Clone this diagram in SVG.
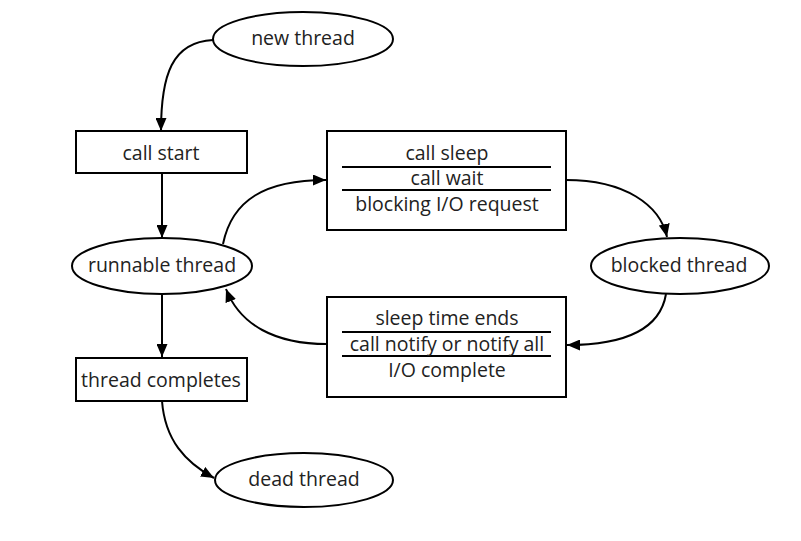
<svg xmlns="http://www.w3.org/2000/svg" width="801" height="541" viewBox="0 0 801 541">
<style>
.n{fill:#fff;stroke:#000;stroke-width:2}
.t{font-family:"Open Sans","Liberation Sans",sans-serif;font-size:19.5px;fill:#222;text-anchor:middle}
.sep{stroke:#000;stroke-width:2}
.c{fill:none;stroke:#000;stroke-width:2;marker-end:url(#ah)}
</style>
<defs>
<marker id="ah" markerUnits="userSpaceOnUse" markerWidth="13" markerHeight="11" refX="13" refY="5.5" orient="auto">
<path d="M0,0 L13,5.5 L0,11 z" fill="#000"/>
</marker>
</defs>
<rect width="801" height="541" fill="#fff"/>
<g id="connectors">
<path class="c" d="M213,40 C172,42 161,75 161,131"/>
<path class="c" d="M162,173 L162,238"/>
<path class="c" d="M223,244 C232,200 265,180 326,180"/>
<path class="c" d="M566,180 C625,180 660,205 667,237"/>
<path class="c" d="M666,294 C660,330 625,345 567,345"/>
<path class="c" d="M327,344 C275,344 240,325 226,289"/>
<path class="c" d="M162,294 L162,357"/>
<path class="c" d="M162,401 C165,440 185,462 214,478"/>
</g>
<g id="new-thread">
<ellipse class="n" cx="303" cy="39" rx="90" ry="27"/>
<text class="t" x="303" y="45">new thread</text>
</g>
<g id="call-start">
<rect class="n" x="76" y="131" width="171" height="42"/>
<text class="t" x="161" y="160">call start</text>
</g>
<g id="runnable-thread">
<ellipse class="n" cx="162" cy="266" rx="90" ry="28"/>
<text class="t" x="162" y="272">runnable thread</text>
</g>
<g id="block-causes">
<rect class="n" x="327" y="131" width="239" height="99"/>
<line class="sep" x1="342" y1="167" x2="551" y2="167"/>
<line class="sep" x1="342" y1="190" x2="551" y2="190"/>
<text class="t" x="447" y="160">call sleep</text>
<text class="t" x="447" y="185">call wait</text>
<text class="t" x="447" y="211">blocking I/O request</text>
</g>
<g id="blocked-thread">
<ellipse class="n" cx="680" cy="266" rx="89" ry="28"/>
<text class="t" x="679" y="272">blocked thread</text>
</g>
<g id="unblock-causes">
<rect class="n" x="327" y="297" width="239" height="100"/>
<line class="sep" x1="342" y1="332" x2="551" y2="332"/>
<line class="sep" x1="342" y1="356" x2="551" y2="356"/>
<text class="t" x="447" y="325">sleep time ends</text>
<text class="t" x="447" y="351">call notify or notify all</text>
<text class="t" x="447" y="377">I/O complete</text>
</g>
<g id="thread-completes">
<rect class="n" x="76" y="358" width="171" height="43"/>
<text class="t" x="161" y="387">thread completes</text>
</g>
<g id="dead-thread">
<ellipse class="n" cx="304" cy="480" rx="89" ry="27"/>
<text class="t" x="304" y="486">dead thread</text>
</g>
</svg>
